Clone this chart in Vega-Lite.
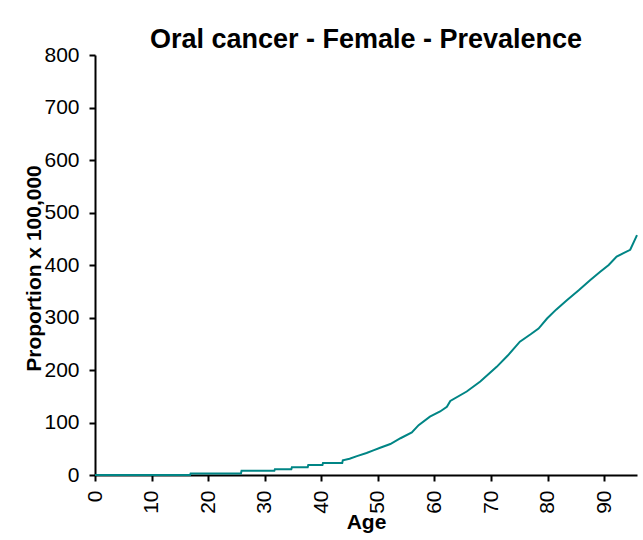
{
  "$schema": "https://vega.github.io/schema/vega-lite/v6.json",
  "autosize": "none",
  "width": 542,
  "height": 420,
  "padding": {"left": 95, "top": 55, "right": 6, "bottom": 65},
  "background": "white",
  "title": {
    "text": "Oral cancer - Female - Prevalence",
    "font": "Liberation Sans",
    "fontSize": 27,
    "fontWeight": "bold",
    "color": "black",
    "anchor": "middle",
    "baseline": "alphabetic",
    "offset": 14,
    "dy": 45
  },
  "data": {
    "values": [
      {"age": 0, "value": 0},
      {"age": 16.8, "value": 0},
      {"age": 16.9, "value": 3},
      {"age": 25.8, "value": 3},
      {"age": 25.9, "value": 8},
      {"age": 31.7, "value": 8},
      {"age": 31.8, "value": 11},
      {"age": 34.7, "value": 11},
      {"age": 34.8, "value": 15},
      {"age": 37.6, "value": 15},
      {"age": 37.7, "value": 19},
      {"age": 40.2, "value": 19},
      {"age": 40.3, "value": 23},
      {"age": 43.7, "value": 23},
      {"age": 43.8, "value": 28},
      {"age": 45, "value": 31},
      {"age": 46.3, "value": 36},
      {"age": 48, "value": 42},
      {"age": 49.2, "value": 47},
      {"age": 50.4, "value": 52},
      {"age": 52.2, "value": 59},
      {"age": 54, "value": 70},
      {"age": 56, "value": 81},
      {"age": 57.2, "value": 95},
      {"age": 59.2, "value": 111},
      {"age": 61, "value": 121},
      {"age": 62.2, "value": 130},
      {"age": 62.8, "value": 141},
      {"age": 65.7, "value": 159},
      {"age": 68.1, "value": 178},
      {"age": 71, "value": 206},
      {"age": 73, "value": 228},
      {"age": 75.1, "value": 254},
      {"age": 77, "value": 268},
      {"age": 78.4, "value": 279},
      {"age": 79.9, "value": 298},
      {"age": 81.5, "value": 315},
      {"age": 83.4, "value": 333},
      {"age": 85.5, "value": 352},
      {"age": 87.5, "value": 371},
      {"age": 89.3, "value": 387},
      {"age": 90.8, "value": 400},
      {"age": 92.2, "value": 416},
      {"age": 93.5, "value": 423},
      {"age": 94.6, "value": 429},
      {"age": 95.8, "value": 457}
    ]
  },
  "mark": {"type": "line", "color": "#008585", "strokeWidth": 2},
  "encoding": {
    "x": {
      "field": "age",
      "type": "quantitative",
      "scale": {"domain": [0, 95.8], "nice": false, "zero": false},
      "axis": {
        "title": "Age",
        "values": [0, 10, 20, 30, 40, 50, 60, 70, 80, 90],
        "grid": false,
        "labelAngle": -90,
        "labelAlign": "right",
        "labelBaseline": "middle",
        "labelFont": "Liberation Sans",
        "labelFontSize": 21,
        "labelColor": "black",
        "labelPadding": 9,
        "tickSize": 6,
        "tickWidth": 2,
        "tickColor": "black",
        "domainColor": "black",
        "domainWidth": 2,
        "titleFont": "Liberation Sans",
        "titleFontSize": 21,
        "titleFontWeight": "bold",
        "titleColor": "black",
        "titleBaseline": "alphabetic",
        "titleY": 53
      }
    },
    "y": {
      "field": "value",
      "type": "quantitative",
      "scale": {"domain": [0, 800], "nice": false},
      "axis": {
        "title": "Proportion x 100,000",
        "values": [0, 100, 200, 300, 400, 500, 600, 700, 800],
        "grid": false,
        "labelFont": "Liberation Sans",
        "labelFontSize": 21,
        "labelColor": "black",
        "labelPadding": 10,
        "tickSize": 6,
        "tickWidth": 2,
        "tickColor": "black",
        "domainColor": "black",
        "domainWidth": 2,
        "titleFont": "Liberation Sans",
        "titleFontSize": 21,
        "titleFontWeight": "bold",
        "titleColor": "black",
        "titleBaseline": "alphabetic",
        "titleX": -55,
        "titleY": 213
      }
    }
  },
  "config": {"view": {"stroke": null}}
}
